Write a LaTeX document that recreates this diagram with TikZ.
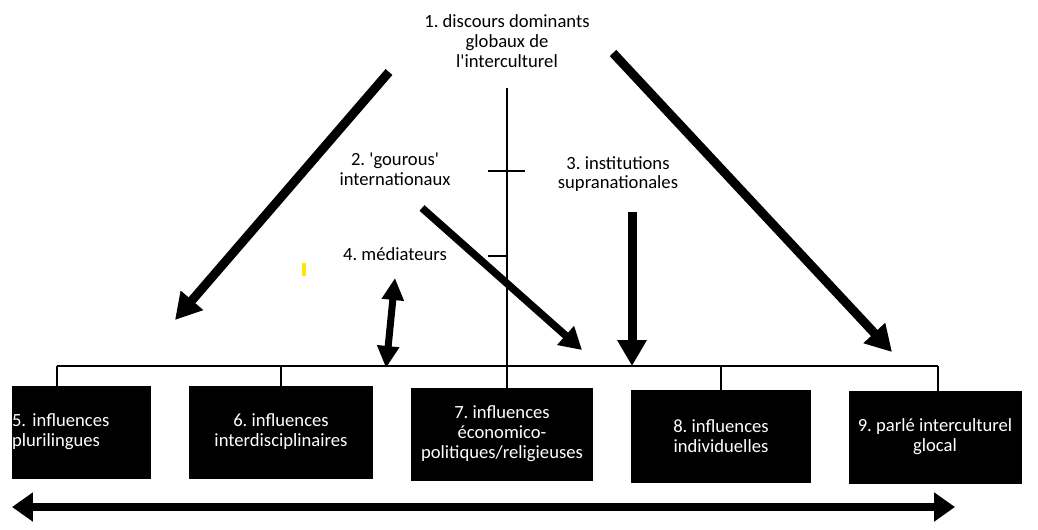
\documentclass[tikz,border=0pt]{standalone}
\usepackage{fontspec}
\setmainfont{Carlito}
\usetikzlibrary{arrows.meta}
\tikzset{
  infobox/.style={draw=black, fill=black, text=white, rectangle, align=center, inner sep=0pt, minimum height=1.84cm, font=\fontsize{10.6}{11.3}\selectfont\frenchspacing},
  toplabel/.style={align=center, inner sep=0pt, font=\fontsize{10.6}{11.3}\selectfont\frenchspacing},
  bigarrow/.style={line width=0.18cm, -{Triangle[width=0.56cm,length=0.52cm]}},
  midarrow/.style={line width=0.15cm, -{Triangle[width=0.48cm,length=0.44cm]}},
  thinline/.style={line width=1pt},
}
\begin{document}
\begin{tikzpicture}[x=0.02cm, y=-0.02cm]%
\useasboundingbox (0,0) rectangle (1038,529);%
% labels above
\node[toplabel] (disc) at (507,41) {1. discours dominants\\globaux de\\l\textquotesingle interculturel};%
\node[toplabel] (gour) at (395,169) {2. \textquotesingle gourous\textquotesingle\\internationaux};%
\node[toplabel] (inst) at (618,174) {3. institutions\\supranationales};%
\node[toplabel] (medi) at (395,254) {4. médiateurs};%
% boxes
\node[infobox, minimum width=2.76cm, text width=2.76cm, align=left] (inf5) at (81,432) {5. influences\\plurilingues};%
\node[infobox, minimum width=3.66cm] (inf6) at (281,432) {6. influences\\interdisciplinaires};%
\node[infobox, minimum width=3.62cm] (inf7) at (502,434) {7. influences\\économico-\\politiques/religieuses};%
\node[infobox, minimum width=3.58cm] (inf8) at (721,436) {8. influences\\individuelles};%
\node[infobox, minimum width=3.44cm] (inf9) at (935,437) {9. parlé interculturel\\glocal};%
% bracket and axis
\coordinate (brl) at (57,366);%
\coordinate (brr) at (938,366);%
\coordinate (axtop) at (507,88);%
\draw[thinline] (brl) -- (brr);%
\draw[thinline] (brl) -- (brl |- inf5.north);%
\draw[thinline] (inf6.north |- brl) -- (inf6.north);%
\draw[thinline] (inf8.north |- brl) -- (inf8.north);%
\draw[thinline] (brr) -- (brr |- inf9.north);%
\draw[thinline] (axtop) -- (axtop |- inf7.north);%
\draw[thinline] (488,171) -- (525,171);%
\draw[thinline] (488,256) -- (507,256);%
% arrows
\coordinate (lfs) at (389,72);%
\coordinate (lfe) at (175,320);%
\coordinate (rts) at (613,53);%
\coordinate (rte) at (892,352);%
\coordinate (gos) at (422,208);%
\coordinate (goe) at (582,350);%
\coordinate (ins) at (632,212);%
\coordinate (ine) at (632,366);%
\coordinate (mes) at (395,278);%
\coordinate (mee) at (386,368);%
\draw[bigarrow] (lfs) -- (lfe);%
\draw[bigarrow] (rts) -- (rte);%
\draw[midarrow] (gos) -- (goe);%
\draw[bigarrow] (ins) -- (ine);%
\draw[line width=0.14cm, {Triangle[width=0.42cm,length=0.44cm]}-{Triangle[width=0.42cm,length=0.44cm]}] (mes) -- (mee);%
% bottom axis
\coordinate (bal) at (12,507);%
\coordinate (bar) at (955,507);%
\draw[line width=0.17cm, {Triangle[width=0.56cm,length=0.42cm]}-{Triangle[width=0.56cm,length=0.42cm]}] (bal) -- (bar);%
% yellow mark
\fill[yellow!90!orange] (302,263) rectangle (306,276);%
\end{tikzpicture}
\end{document}
